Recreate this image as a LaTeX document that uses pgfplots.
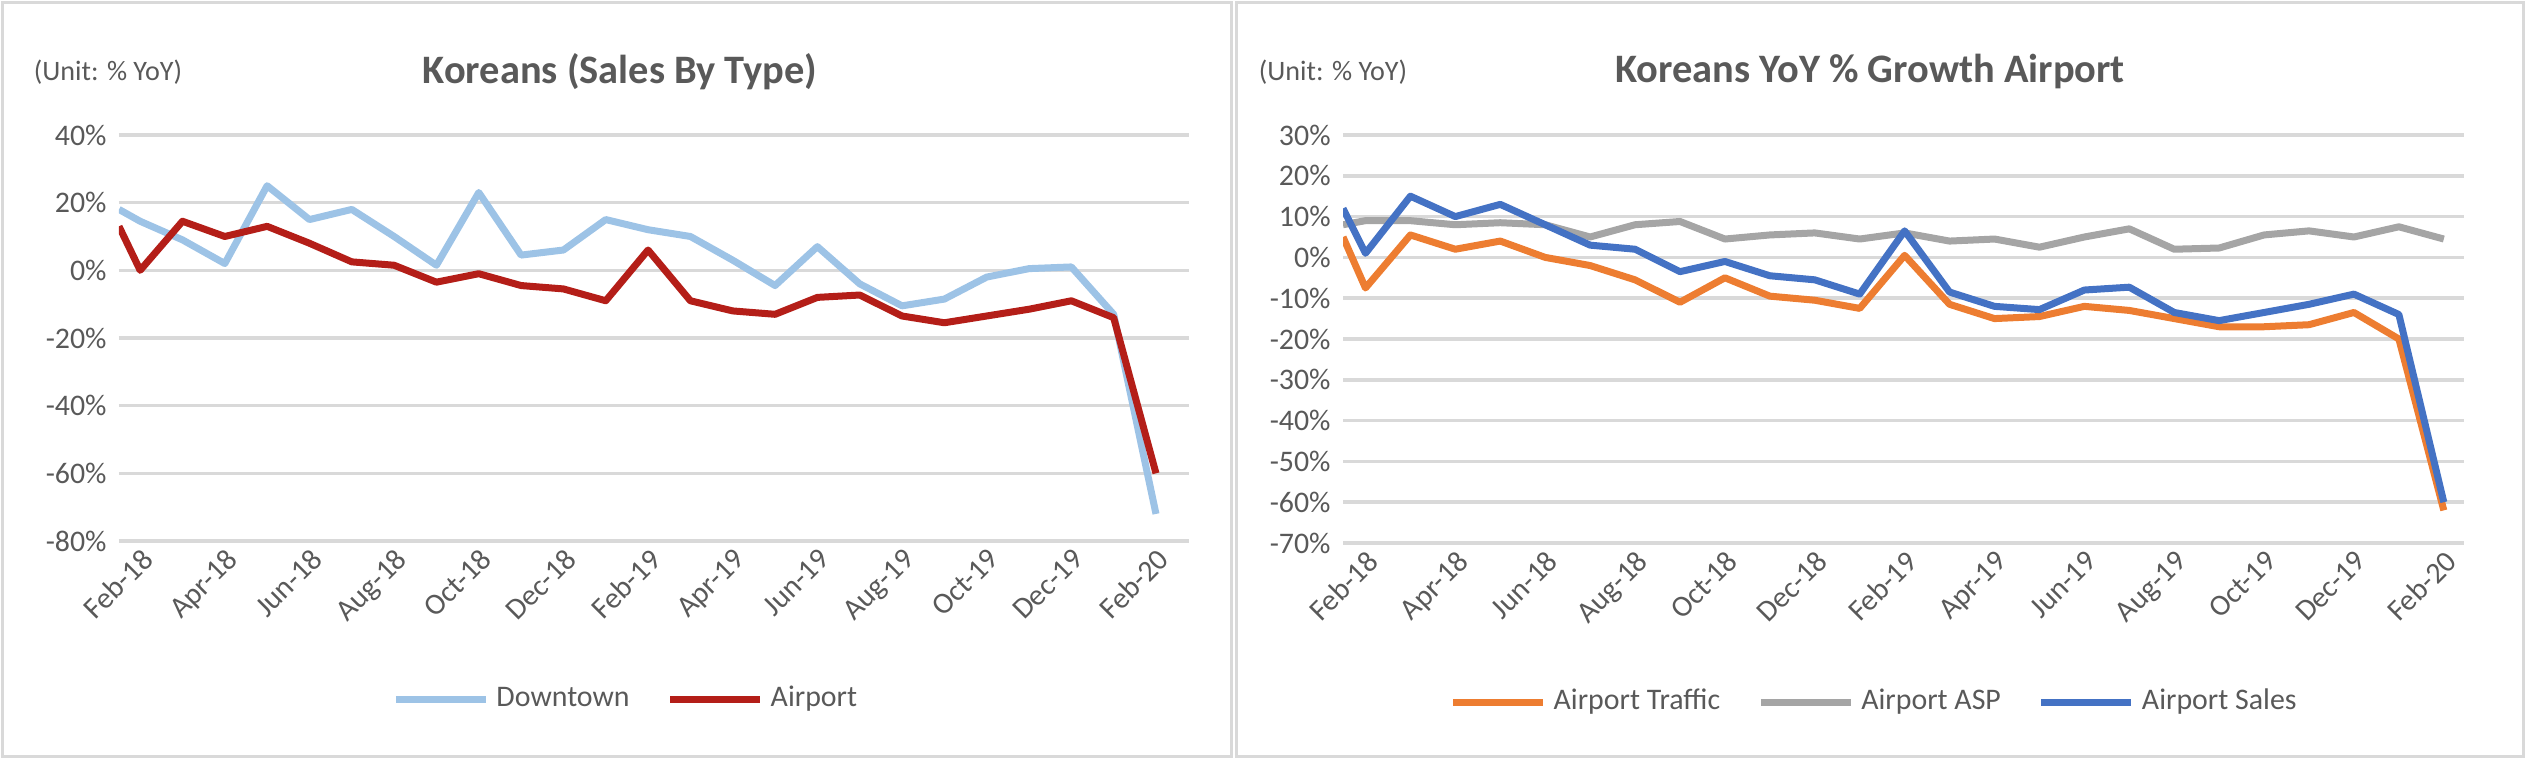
\documentclass[border=0pt]{standalone}
\usepackage{pgfplots}
\pgfplotsset{compat=1.18}
\usepackage{fontspec}
\setmainfont{Carlito}
\definecolor{txt}{RGB}{89,89,89}
\definecolor{grd}{RGB}{217,217,217}
\definecolor{dtown}{RGB}{157,195,230}
\definecolor{airp}{RGB}{180,30,24}
\definecolor{ortr}{RGB}{237,125,49}
\definecolor{gasp}{RGB}{165,165,165}
\definecolor{bsal}{RGB}{68,114,196}
\begin{document}
\begin{tikzpicture}
\path (0,0) rectangle (252.6mm,76.2mm);
\draw[grd,line width=0.3mm] (0.3mm,0.6mm) rectangle (123.1mm,75.9mm);
\draw[grd,line width=0.3mm] (123.6mm,0.6mm) rectangle (252.3mm,75.9mm);
\pgfplotsset{
 mystyle/.style={
  scale only axis,
  axis line style={draw=none},
  major tick length=0pt,
  ymajorgrids, grid style={grd,line width=0.35mm},
  xmin=-0.5,
  xtick={0,2,...,24},
  xticklabels={Feb-18,Apr-18,Jun-18,Aug-18,Oct-18,Dec-18,Feb-19,Apr-19,Jun-19,Aug-19,Oct-19,Dec-19,Feb-20},
  x tick label style={rotate=45,anchor=north east,font=\fontsize{8.5}{9}\selectfont,text=txt,inner sep=1pt},
  y tick label style={font=\fontsize{8.5}{9}\selectfont,text=txt},
  /pgf/number format/assume math mode=true,
  yticklabel={\pgfmathprintnumber{\tick}\%},
  legend style={draw=none,fill=none,font=\fontsize{8.5}{9}\selectfont,text=txt,legend columns=-1,
    /tikz/every even column/.append style={column sep=3mm},at={(0.476,-0.39)},anchor=center},
  legend image code/.code={\draw[#1] (0mm,0mm) -- (9mm,0mm);},
  every axis plot/.append style={line width=0.7mm,line join=round,no markers},
 }
}
\begin{axis}[mystyle,at={(11.9mm,22.1mm)},anchor=south west,width=107mm,height=40.6mm,
  xmax=24.78,ymin=-80,ymax=40,ytick={-80,-60,...,40}]
\addplot[dtown] coordinates {(-0.5,18)(0,14.5)(1,9)(2,2)(3,25)(4,15)(5,18)(6,10)(7,1.5)(8,23)(9,4.5)(10,6)(11,15)(12,12)(13,10)(14,3)(15,-4.5)(16,7)(17,-4)(18,-10.5)(19,-8.5)(20,-2)(21,0.5)(22,1)(23,-13)(24,-72)};
\addlegendentry{Downtown}
\addplot[airp] coordinates {(-0.5,13)(0,0)(1,14.5)(2,10)(3,13)(4,8)(5,2.5)(6,1.5)(7,-3.5)(8,-1)(9,-4.5)(10,-5.5)(11,-9)(12,6)(13,-9)(14,-12)(15,-13)(16,-8)(17,-7.3)(18,-13.5)(19,-15.5)(20,-13.5)(21,-11.5)(22,-9)(23,-14)(24,-60)};
\addlegendentry{Airport}
\end{axis}
\node[text=txt,font=\fontsize{8}{9}\selectfont] at (10.8mm,69mm) {(Unit: \% YoY)};
\node[text=txt,font=\bfseries\fontsize{11.5}{13}\selectfont] at (62mm,69mm) {Koreans (Sales By Type)};
\begin{axis}[mystyle,at={(134.3mm,21.9mm)},anchor=south west,width=112.1mm,height=40.8mm,
  xmax=24.45,ymin=-70,ymax=30,ytick={-70,-60,...,30}]
\addplot[ortr] coordinates {(-0.5,5)(0,-7.5)(1,5.5)(2,2)(3,4)(4,0)(5,-2)(6,-5.5)(7,-11)(8,-5)(9,-9.5)(10,-10.5)(11,-12.5)(12,0.5)(13,-11.5)(14,-15)(15,-14.5)(16,-12)(17,-13)(18,-15)(19,-17)(20,-17)(21,-16.5)(22,-13.5)(23,-20)(24,-62)};
\addlegendentry{Airport Traffic}
\addplot[gasp] coordinates {(-0.5,8)(0,9)(1,9)(2,8)(3,8.5)(4,8)(5,5)(6,8)(7,8.8)(8,4.5)(9,5.5)(10,6)(11,4.5)(12,6)(13,4)(14,4.5)(15,2.5)(16,5)(17,7)(18,2)(19,2.3)(20,5.5)(21,6.5)(22,5)(23,7.5)(24,4.5)};
\addlegendentry{Airport ASP}
\addplot[bsal] coordinates {(-0.5,12)(0,1)(1,15)(2,10)(3,13)(4,8)(5,3)(6,2)(7,-3.5)(8,-1)(9,-4.5)(10,-5.5)(11,-9)(12,6.5)(13,-8.5)(14,-12)(15,-12.8)(16,-8)(17,-7.3)(18,-13.5)(19,-15.5)(20,-13.5)(21,-11.5)(22,-9)(23,-14)(24,-60)};
\addlegendentry{Airport Sales}
\end{axis}
\node[text=txt,font=\fontsize{8}{9}\selectfont] at (133.3mm,69mm) {(Unit: \% YoY)};
\node[text=txt,font=\bfseries\fontsize{11.5}{13}\selectfont] at (187mm,69mm) {Koreans YoY \% Growth Airport};
\end{tikzpicture}
\end{document}
